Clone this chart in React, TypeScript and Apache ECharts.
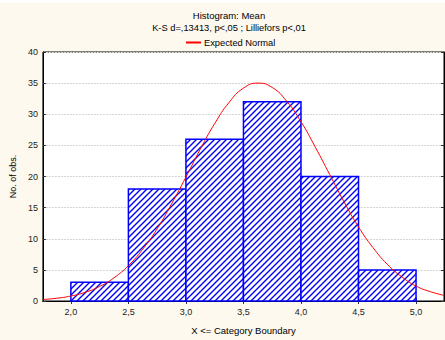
import React, { useEffect, useRef } from "react";
import * as echarts from "echarts";

const binStarts = [2.0, 2.5, 3.0, 3.5, 4.0, 4.5];
const binEnds = [2.5, 3.0, 3.5, 4.0, 4.5, 5.0];
const counts = [3, 18, 26, 32, 20, 5];

const curveX = [1.757, 1.875, 2.0, 2.125, 2.25, 2.375, 2.5, 2.625, 2.75, 2.875, 3.0, 3.125, 3.25, 3.375, 3.5, 3.625, 3.75, 3.875, 4.0, 4.125, 4.25, 4.375, 4.5, 4.625, 4.75, 4.875, 5.0, 5.125, 5.243];
const curveY = [0.24, 0.44, 0.8, 1.4, 2.33, 3.73, 5.69, 8.33, 11.6, 15.6, 19.9, 24.4, 28.5, 31.9, 34.2, 35.0, 34.3, 32.1, 28.8, 24.7, 20.3, 15.9, 11.9, 8.6, 5.9, 3.9, 2.4, 1.5, 0.9];

const xTicks = [2.0, 2.5, 3.0, 3.5, 4.0, 4.5, 5.0];

const titleText = "Histogram: Mean";
const subText = "K-S d=,13413, p<,05 ; Lilliefors p<,01";
const legendName = "Expected Normal";

const FONT = "'Liberation Sans', Arial, sans-serif";

function makePattern() {
  const s = 6;
  const c = document.createElement("canvas");
  c.width = s;
  c.height = s;
  const ctx = c.getContext("2d")!;
  ctx.fillStyle = "#ffffff";
  ctx.fillRect(0, 0, s, s);
  ctx.strokeStyle = "#0000ff";
  ctx.lineWidth = 1.4;
  ctx.beginPath();
  ctx.moveTo(-1, s + 1);
  ctx.lineTo(s + 1, -1);
  ctx.moveTo(-1, 1);
  ctx.lineTo(1, -1);
  ctx.moveTo(s - 1, s + 1);
  ctx.lineTo(s + 1, s - 1);
  ctx.stroke();
  return { image: c, repeat: "repeat", imageWidth: s, imageHeight: s };
}

export default function App() {
  const ref = useRef<HTMLDivElement>(null);
  useEffect(() => {
    if (!ref.current) return;
    const chart = echarts.init(ref.current, null, { renderer: "svg" });
    const pattern = makePattern();
    const histData = binStarts.map((s, i) => [s, binEnds[i], counts[i]]);
    const lineData = curveX.map((x, i) => [x, curveY[i]]);
    const fmt = (v: number) => v.toFixed(1).replace(".", ",");
    chart.setOption({
      animation: false,
      backgroundColor: "#fdf9ee",
      textStyle: { fontFamily: FONT },
      grid: {
        left: 42,
        right: 1,
        top: 52,
        bottom: 37,
        show: true,
        backgroundColor: "#ffffff",
        borderColor: "#000",
        borderWidth: 1,
      },
      legend: {
        left: 181,
        top: 33,
        itemWidth: 15,
        itemHeight: 2,
        icon: "rect",
        itemGap: 5,
        textStyle: { fontSize: 9.3, color: "#000", fontFamily: FONT, padding: [0, 0, 0, -2] },
        data: [legendName],
      },
      graphic: [
        { type: "rect", left: 0, top: 0, shape: { width: 445, height: 3 }, style: { fill: "#ffffff" }, silent: true },
        {
          type: "text",
          x: 229,
          y: 15,
          style: { text: titleText, fontSize: 9.5, fontFamily: FONT, fill: "#000", textAlign: "center", textVerticalAlign: "middle" },
        },
        {
          type: "text",
          x: 229,
          y: 28,
          style: { text: subText, fontSize: 9.3, fontFamily: FONT, fill: "#000", textAlign: "center", textVerticalAlign: "middle" },
        },
      ],
      xAxis: [
        {
          type: "value",
          min: 1.757,
          max: 5.243,
          name: "X <= Category Boundary",
          nameLocation: "middle",
          nameGap: 24,
          nameTextStyle: { fontSize: 9.5, color: "#000", fontFamily: FONT },
          axisLine: { show: true, lineStyle: { color: "#000", width: 1 } },
          axisTick: { show: true, inside: true, length: 3, customValues: xTicks, lineStyle: { color: "#333" } },
          axisLabel: { customValues: xTicks, formatter: fmt, fontSize: 9, color: "#222", margin: 6, fontFamily: FONT },
          splitLine: { show: false },
        },
        {
          type: "value",
          position: "top",
          min: 1.757,
          max: 5.243,
          axisLine: { show: true, lineStyle: { color: "#000", width: 1 } },
          axisTick: { show: true, inside: true, length: 3, customValues: xTicks, lineStyle: { color: "#333" } },
          axisLabel: { show: false, customValues: xTicks },
          splitLine: { show: false },
        },
      ],
      yAxis: [
        {
          type: "value",
          min: 0,
          max: 40,
          interval: 5,
          name: "No. of obs.",
          nameLocation: "middle",
          nameGap: 19,
          nameTextStyle: { fontSize: 9, color: "#000", fontFamily: FONT },
          axisLine: { show: true, lineStyle: { color: "#000", width: 1 } },
          axisTick: { show: true, inside: true, length: 3, lineStyle: { color: "#333" } },
          axisLabel: { fontSize: 9, color: "#222", margin: 5, fontFamily: FONT },
          splitLine: { show: true, lineStyle: { color: "#d4d4d4", type: [2, 1], width: 1 } },
        },
        {
          type: "value",
          position: "right",
          min: 0,
          max: 40,
          interval: 5,
          axisLine: { show: true, lineStyle: { color: "#000", width: 1 } },
          axisTick: { show: true, inside: true, length: 3, lineStyle: { color: "#333" } },
          axisLabel: { show: false },
          splitLine: { show: false },
        },
      ],
      series: [
        {
          type: "custom",
          name: "Histogram",
          xAxisIndex: 0,
          yAxisIndex: 0,
          data: histData,
          encode: { x: [0, 1], y: 2 },
          renderItem: (params: any, api: any) => {
            const p0 = api.coord([api.value(0), api.value(2)]);
            const p1 = api.coord([api.value(1), 0]);
            return {
              type: "rect",
              shape: { x: p0[0], y: p0[1], width: p1[0] - p0[0], height: p1[1] - p0[1] },
              style: { fill: pattern, stroke: "#0000ff", lineWidth: 1.5 },
            };
          },
        },
        {
          type: "line",
          name: legendName,
          xAxisIndex: 0,
          yAxisIndex: 0,
          data: lineData,
          smooth: true,
          showSymbol: false,
          symbol: "none",
          clip: true,
          z: 5,
          lineStyle: { color: "#ff0000", width: 1 },
          itemStyle: { color: "#ff0000" },
        },
      ],
    });
    return () => chart.dispose();
  }, []);
  return (
    <div
      ref={ref}
      style={{ position: "absolute", left: 0, top: 0, width: 445, height: 340 }}
    />
  );
}
